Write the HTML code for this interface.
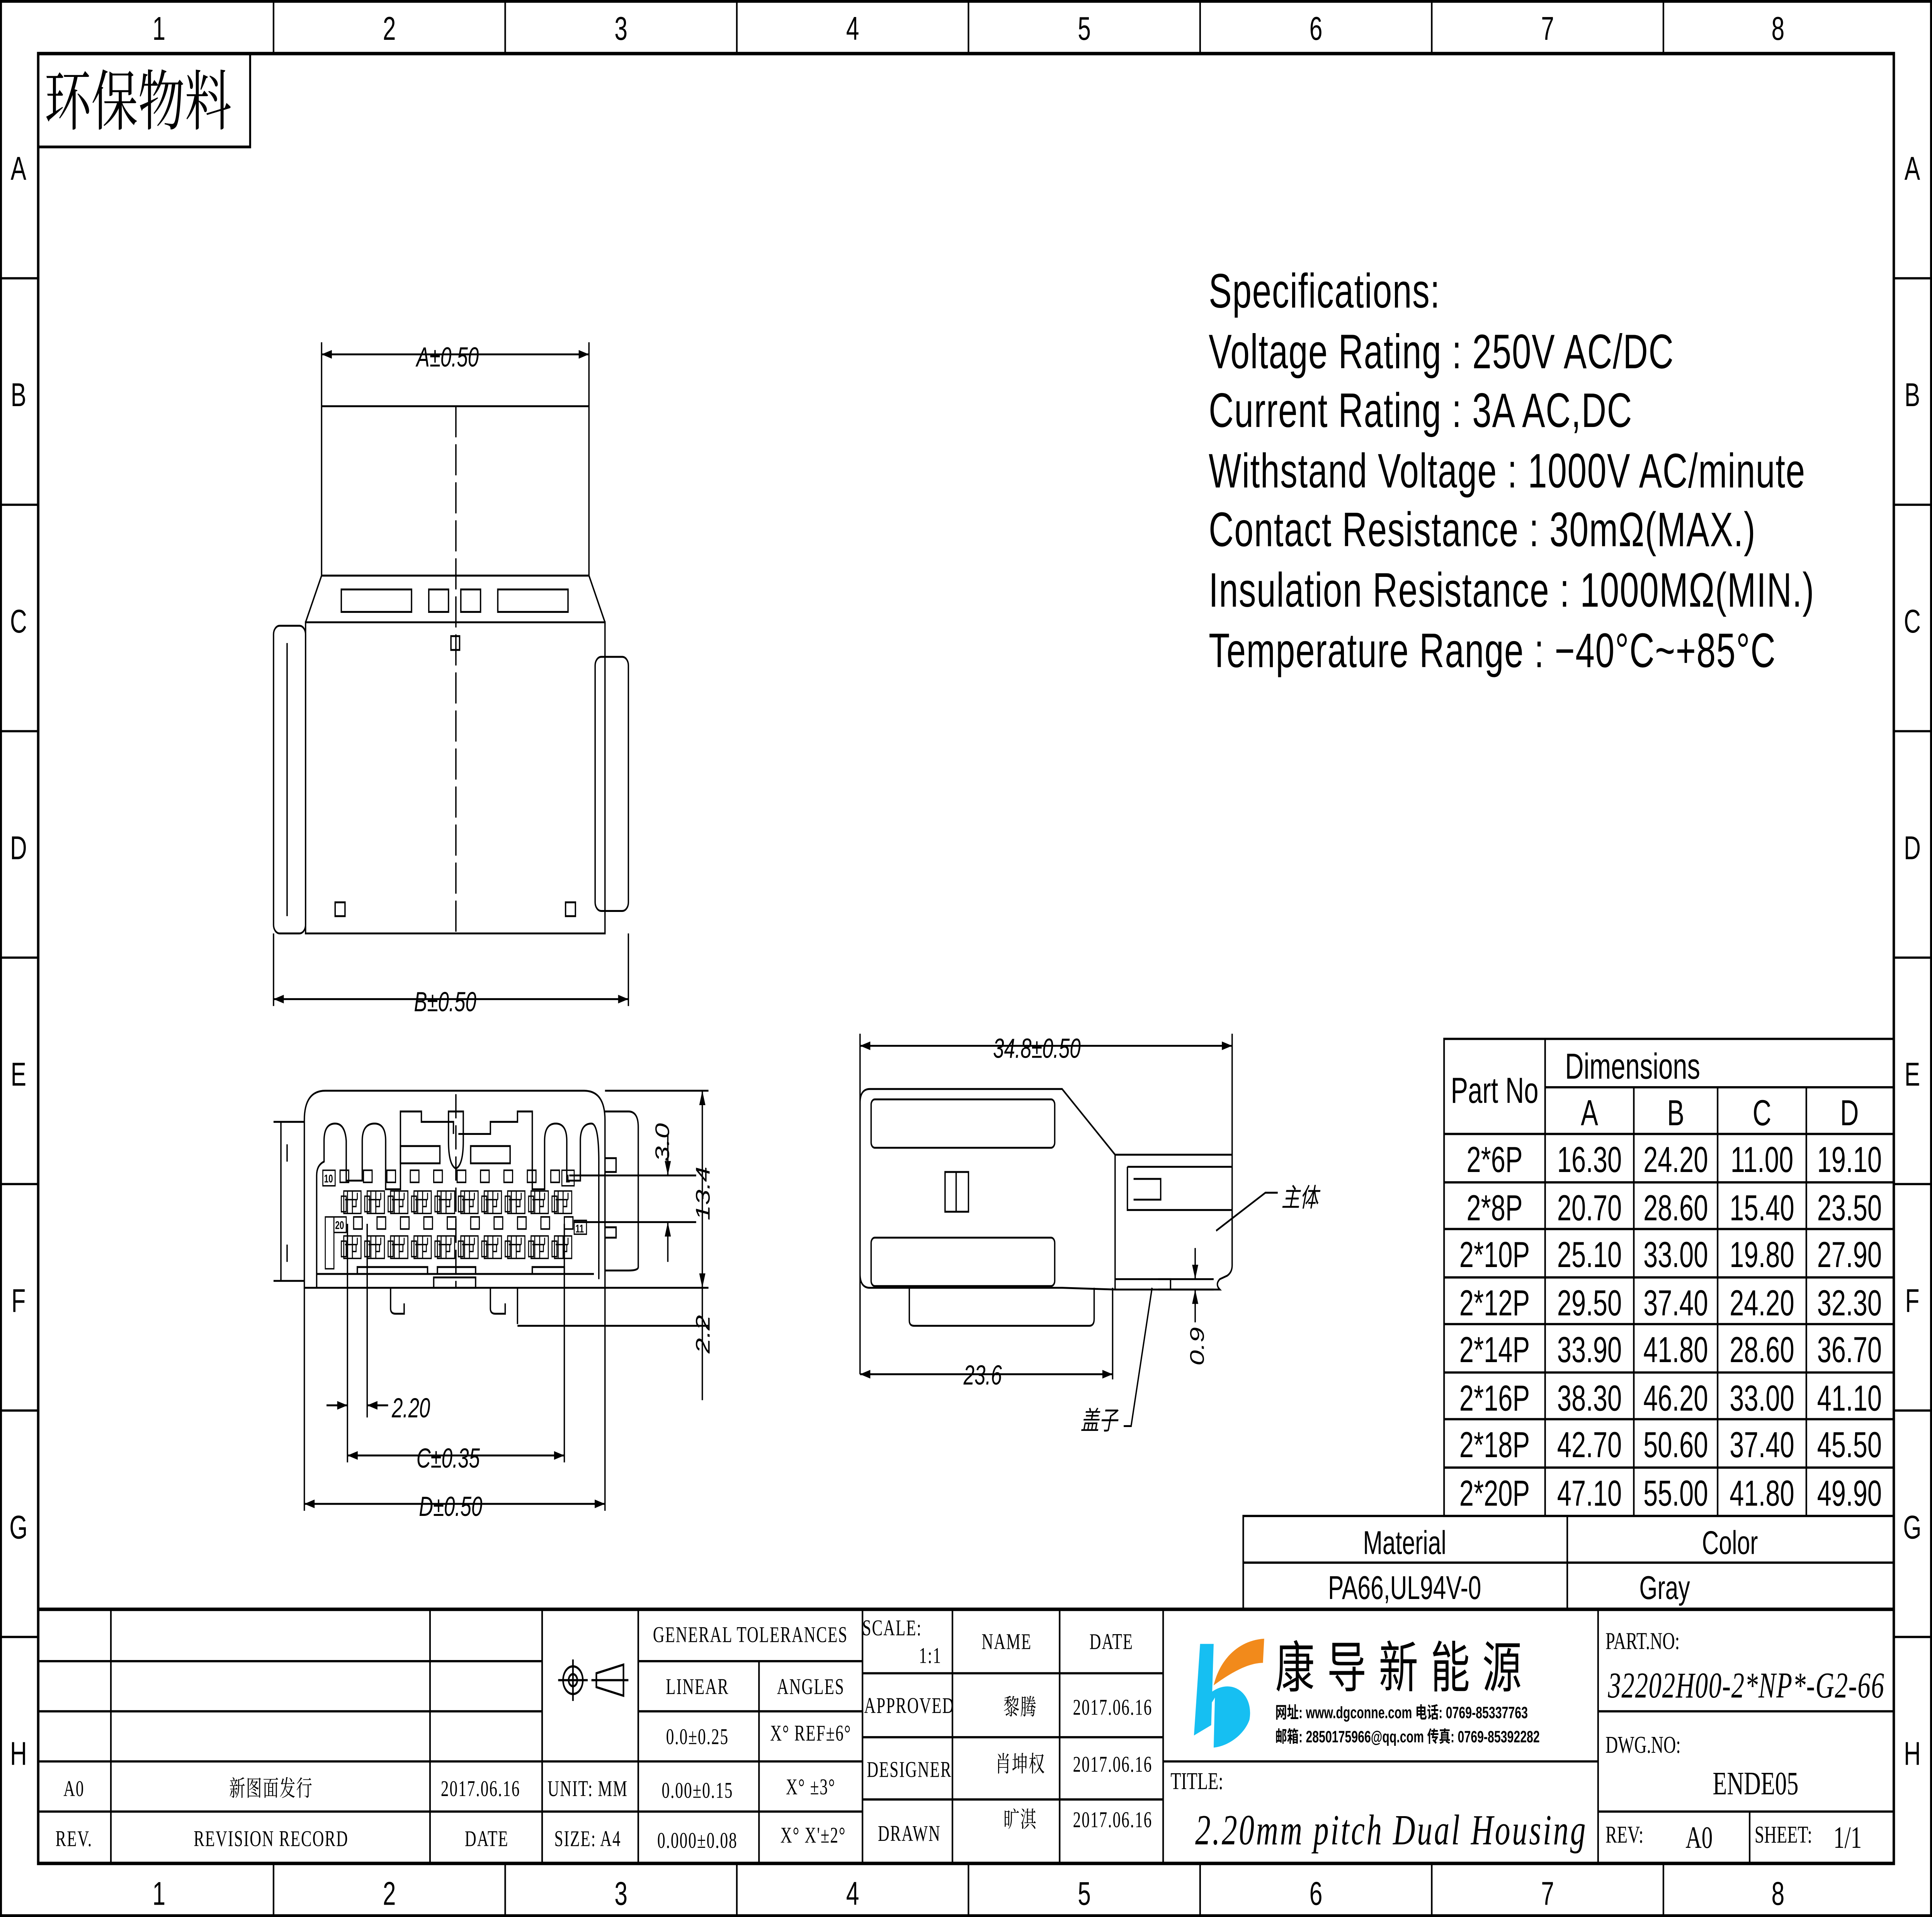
<!DOCTYPE html>
<html><head><meta charset="utf-8"><style>
html,body{margin:0;padding:0;background:#fff;width:100vw;height:100vh;overflow:hidden;}
svg{display:block;width:100vw;height:100vh;}
text{font-family:"Liberation Sans","Noto Sans CJK SC",sans-serif;fill:#000;}
.s{font-family:"Liberation Serif","Noto Serif CJK SC","Noto Sans CJK SC",serif;}
.d{font-style:italic;font-size:16px;}
</style></head><body>
<svg viewBox="0 0 1568 1109" preserveAspectRatio="none" xmlns="http://www.w3.org/2000/svg">
<defs>
<marker id="ar" viewBox="0 0 10 6" refX="10" refY="3" markerWidth="9" markerHeight="5" markerUnits="userSpaceOnUse" orient="auto-start-reverse"><path d="M0,0L10,3L0,6z" fill="#000"/></marker>
<g id="pin" fill="none" stroke="#000" stroke-width="0.8">
<rect x="2" y="0" width="14" height="13"/><rect x="0" y="3" width="4" height="9"/>
<line x1="5" y1="0" x2="5" y2="13"/><line x1="9" y1="0" x2="9" y2="13"/><line x1="13" y1="1" x2="13" y2="5"/>
<line x1="3" y1="5" x2="13" y2="5"/><path d="M9,5v4h3v-4"/>
</g>
<rect id="sq" width="7" height="7" fill="none" stroke="#000" stroke-width="0.9"/>
</defs>
<rect width="1568" height="1109" fill="#fff"/>
<g fill="none" stroke="#000">
<rect x="0.8" y="0.8" width="1566.4" height="1107.4" stroke-width="1.6"/>
<rect x="31" y="31" width="1506" height="1047" stroke-width="2"/>
<g stroke-width="1.3">
<path d="M222,0V31M410,0V31M598,0V31M786,0V31M974,0V31M1162,0V31M1350,0V31"/>
<path d="M222,1078V1109M410,1078V1109M598,1078V1109M786,1078V1109M974,1078V1109M1162,1078V1109M1350,1078V1109"/>
<path d="M0,161H31M0,292H31M0,423H31M0,554H31M0,685H31M0,816H31M0,947H31"/>
<path d="M1537,161H1568M1537,292H1568M1537,423H1568M1537,554H1568M1537,685H1568M1537,816H1568M1537,947H1568"/>
</g>
<rect x="31" y="31" width="172" height="54" stroke-width="1.6"/>
</g>
<g font-size="19" text-anchor="middle">
<text x="129" y="23">1</text><text x="316" y="23">2</text><text x="504" y="23">3</text><text x="692" y="23">4</text><text x="880" y="23">5</text><text x="1068" y="23">6</text><text x="1256" y="23">7</text><text x="1443" y="23">8</text>
<text x="129" y="1102">1</text><text x="316" y="1102">2</text><text x="504" y="1102">3</text><text x="692" y="1102">4</text><text x="880" y="1102">5</text><text x="1068" y="1102">6</text><text x="1256" y="1102">7</text><text x="1443" y="1102">8</text>
<text x="15" y="104">A</text><text x="15" y="235">B</text><text x="15" y="366">C</text><text x="15" y="497">D</text><text x="15" y="628">E</text><text x="15" y="759">F</text><text x="15" y="890">G</text><text x="15" y="1021">H</text>
<text x="1552" y="104">A</text><text x="1552" y="235">B</text><text x="1552" y="366">C</text><text x="1552" y="497">D</text><text x="1552" y="628">E</text><text x="1552" y="759">F</text><text x="1552" y="890">G</text><text x="1552" y="1021">H</text>
</g>
<text x="36" y="72" class="s" font-size="38">环保物料</text>
<g font-size="28" letter-spacing="0.5">
<text x="981" y="178">Specifications:</text>
<text x="981" y="213">Voltage  Rating : 250V AC/DC</text>
<text x="981" y="247">Current  Rating : 3A AC,DC</text>
<text x="981" y="282">Withstand Voltage : 1000V AC/minute</text>
<text x="981" y="316">Contact  Resistance : 30mΩ(MAX.)</text>
<text x="981" y="351">Insulation  Resistance : 1000MΩ(MIN.)</text>
<text x="981" y="386">Temperature  Range : −40°C~+85°C</text>
</g>
<g fill="none" stroke="#000" stroke-width="1.3">
<rect x="1172" y="601" width="365" height="276"/>
<path d="M1254,601V877M1326,629V877M1394,629V877M1466,629V877M1254,629H1537"/>
<path d="M1172,656H1537M1172,684H1537M1172,711H1537M1172,739H1537M1172,766H1537M1172,794H1537M1172,821H1537M1172,849H1537"/>
<rect x="1009" y="877" width="528" height="54"/>
<path d="M1272,877V931M1009,904H1537"/>
</g>
<g font-size="21" text-anchor="middle">
<text x="1213" y="638">Part No</text><text x="1325" y="624">Dimensions</text>
<text x="1290" y="651">A</text><text x="1360" y="651">B</text><text x="1430" y="651">C</text><text x="1501" y="651">D</text>
<text x="1213" y="678">2*6P</text><text x="1290" y="678">16.30</text><text x="1360" y="678">24.20</text><text x="1430" y="678">11.00</text><text x="1501" y="678">19.10</text>
<text x="1213" y="706">2*8P</text><text x="1290" y="706">20.70</text><text x="1360" y="706">28.60</text><text x="1430" y="706">15.40</text><text x="1501" y="706">23.50</text>
<text x="1213" y="733">2*10P</text><text x="1290" y="733">25.10</text><text x="1360" y="733">33.00</text><text x="1430" y="733">19.80</text><text x="1501" y="733">27.90</text>
<text x="1213" y="761">2*12P</text><text x="1290" y="761">29.50</text><text x="1360" y="761">37.40</text><text x="1430" y="761">24.20</text><text x="1501" y="761">32.30</text>
<text x="1213" y="788">2*14P</text><text x="1290" y="788">33.90</text><text x="1360" y="788">41.80</text><text x="1430" y="788">28.60</text><text x="1501" y="788">36.70</text>
<text x="1213" y="816">2*16P</text><text x="1290" y="816">38.30</text><text x="1360" y="816">46.20</text><text x="1430" y="816">33.00</text><text x="1501" y="816">41.10</text>
<text x="1213" y="843">2*18P</text><text x="1290" y="843">42.70</text><text x="1360" y="843">50.60</text><text x="1430" y="843">37.40</text><text x="1501" y="843">45.50</text>
<text x="1213" y="871">2*20P</text><text x="1290" y="871">47.10</text><text x="1360" y="871">55.00</text><text x="1430" y="871">41.80</text><text x="1501" y="871">49.90</text>
<text x="1140" y="899" font-size="19">Material</text><text x="1404" y="899" font-size="19">Color</text>
<text x="1140" y="925" font-size="19">PA66,UL94V-0</text><text x="1351" y="925" font-size="19">Gray</text>
</g>
<g fill="none" stroke="#000" stroke-width="1.3">
<path d="M31,931H1537" stroke-width="2"/>
<path d="M90,931V1078M349,931V1078M440,931V1078M518,931V1078M700,931V1078M773,931V1078M860,931V1078M944,931V1078M1297,931V1078"/>
<path d="M31,961H440M31,990H440M31,1019H518M31,1048H518"/>
<path d="M518,961H700M518,990H700M518,1019H700M518,1048H700M616,961V1078"/>
<path d="M700,968H944M700,1005H944M700,1041H944"/>
<path d="M944,1019H1297M1297,990H1537M1297,1048H1537M1420,1048V1078"/>
<circle cx="465" cy="972" r="8"/><circle cx="465" cy="972" r="3.5"/><path d="M453,972H477M465,960V984M484,968L506,963V981L484,976ZM480,972H510"/>
</g>
<g class="s" font-size="13" text-anchor="middle" letter-spacing="0.6">
<text x="60" y="1039" class="s">A0</text><text x="220" y="1039" class="s">新图面发行</text><text x="390" y="1039" class="s">2017.06.16</text>
<text x="60" y="1068" class="s">REV.</text><text x="220" y="1068" class="s">REVISION RECORD</text><text x="395" y="1068" class="s">DATE</text>
<text x="477" y="1039" class="s">UNIT: MM</text><text x="477" y="1068" class="s">SIZE: A4</text>
<text x="609" y="950" class="s">GENERAL TOLERANCES</text>
<text x="566" y="980" class="s">LINEAR</text><text x="658" y="980" class="s">ANGLES</text>
<text x="566" y="1009" class="s">0.0±0.25</text><text x="658" y="1007" class="s">X° REF±6°</text>
<text x="566" y="1040" class="s">0.00±0.15</text><text x="658" y="1038" class="s">X° ±3°</text>
<text x="566" y="1069" class="s">0.000±0.08</text><text x="660" y="1066" class="s">X° X'±2°</text>
<text x="724" y="946" class="s">SCALE:</text><text x="755" y="962" class="s">1:1</text>
<text x="817" y="954" class="s">NAME</text><text x="902" y="954" class="s">DATE</text>
<text x="738" y="991" class="s">APPROVED</text><text x="828" y="992" class="s">黎腾</text><text x="903" y="992" class="s">2017.06.16</text>
<text x="738" y="1028" class="s">DESIGNER</text><text x="828" y="1025" class="s">肖坤权</text><text x="903" y="1025" class="s">2017.06.16</text>
<text x="738" y="1065" class="s">DRAWN</text><text x="828" y="1057" class="s">旷淇</text><text x="903" y="1057" class="s">2017.06.16</text>
</g>
<g class="s" font-size="14">
<text x="950" y="1035" class="s">TITLE:</text>
<text x="1303" y="954" class="s">PART.NO:</text>
<text x="1303" y="1014" class="s">DWG.NO:</text>
<text x="1303" y="1066" class="s">REV:</text><text x="1368" y="1069" class="s" font-size="18">A0</text>
<text x="1424" y="1066" class="s">SHEET:</text><text x="1488" y="1069" class="s" font-size="18">1/1</text>
<text x="1305" y="982" class="s" font-size="21" font-style="italic" letter-spacing="0.5">32202H00-2*NP*-G2-66</text>
<text x="1390" y="1038" class="s" font-size="19">ENDE05</text>
<text x="970" y="1067" class="s" font-size="25" font-style="italic" letter-spacing="1.4">2.20mm pitch Dual Housing</text>
</g>
<path d="M974,951L985,951L983,998L969,1004Z" fill="#16bff2"/>
<path d="M983,979C1000,970 1018,980 1014,995C1010,1003 998,1010 985,1011L986,982Q980,990 983,979Z" fill="#16bff2"/>
<path d="M985,975C990,960 1005,949 1026,948L1025,962C1015,962 1002,966 985,975Z" fill="#f28a1b"/>
<text x="1035" y="976" font-size="32" font-family="Noto Sans CJK SC, sans-serif" letter-spacing="10">康导新能源</text>
<text x="1035" y="994" font-size="9.5" font-weight="bold">网址: www.dgconne.com   电话: 0769-85337763</text>
<text x="1035" y="1008" font-size="9.5" font-weight="bold">邮箱: 2850175966@qq.com 传真: 0769-85392282</text>

<g fill="none" stroke="#000" stroke-width="1.1">
<path d="M261,198V235M478,198V235"/>
<path d="M261,205H478" marker-start="url(#ar)" marker-end="url(#ar)"/>
<rect x="261" y="235" width="217" height="98"/>
<path d="M261,333L248,360M478,333L491,360M261,333H478"/>
<rect x="248" y="360" width="243" height="180"/>
<rect x="222" y="362" width="26" height="178" rx="5"/><path d="M233,372V530"/>
<rect x="483" y="380" width="27" height="147" rx="5"/>
<rect x="277" y="341" width="57" height="13"/><rect x="348" y="341" width="16" height="13"/><rect x="374" y="341" width="16" height="13"/><rect x="404" y="341" width="57" height="13"/>
<rect x="366" y="368" width="7" height="8"/><rect x="272" y="522" width="8" height="8"/><rect x="459" y="522" width="8" height="8"/>
<path d="M370,235V540" stroke-dasharray="18,4"/>
<path d="M222,540V582M510,540V582"/>
<path d="M222,578H510" marker-start="url(#ar)" marker-end="url(#ar)"/>
</g>
<text x="338" y="212" class="d">A±0.50</text>
<text x="336" y="585" class="d">B±0.50</text>

<g fill="none" stroke="#000" stroke-width="1.1">
<path d="M247,745V648Q247,631 264,631H474Q491,631 491,648V745Z"/>
<path d="M257,745V680Q257,674 263,672V660Q263,650 272,650Q280,650 281,660V683H294V660Q294,650 304,650Q313,650 313,660V688H325V643H342V649H368V656M372,656H398V649H420V643H432V688H442V660Q442,650 451,650Q460,650 460,660V683H471V660Q471,650 480,650Q486,650 486,672V740"/>
<rect x="325" y="663" width="32" height="10"/><rect x="382" y="663" width="32" height="10"/>
<path d="M364,660Q364,674 370,676Q376,674 376,660V643H364Z"/>
<path d="M222,649H247M222,741H247M228,649V741M233,662V672M233,720V730"/>
<path d="M491,643H510Q518,643 518,652V733Q518,735 510,735H491"/>
<path d="M491,670H500V678H491M491,710H500V716H491"/>
<path d="M257,737H482M290,737V733H347V737M355,737V733H386V737M432,737V733H458V737"/>
<rect x="352" y="739" width="34" height="6"/>
<path d="M317,745V757Q317,760 321,760H328V754M398,745V757Q398,760 402,760H410V754M420,745V766"/>
<path d="M370,633V745" stroke-dasharray="14,4"/>
<path d="M462,680H565M466,707H565M491,631H575M491,745H575M420,767H575"/>
<path d="M542,656V680" marker-end="url(#ar)"/><path d="M542,730V707" marker-end="url(#ar)"/>
<path d="M570,631V745" marker-start="url(#ar)" marker-end="url(#ar)"/>
<path d="M570,745V810"/>
<path d="M282,708V846M298,708V820M458,708V846M247,745V874M491,745V874"/>
<path d="M265,813H282" marker-end="url(#ar)"/><path d="M315,813H298" marker-end="url(#ar)"/>
<path d="M282,842H458" marker-start="url(#ar)" marker-end="url(#ar)"/>
<path d="M247,870H491" marker-start="url(#ar)" marker-end="url(#ar)"/>
</g>
<g>
<use href="#sq" x="276" y="677"/><use href="#sq" x="295" y="677"/><use href="#sq" x="314" y="677"/><use href="#sq" x="333" y="677"/><use href="#sq" x="352" y="677"/><use href="#sq" x="371" y="677"/><use href="#sq" x="390" y="677"/><use href="#sq" x="409" y="677"/><use href="#sq" x="428" y="677"/><use href="#sq" x="447" y="677"/>
<use href="#sq" x="287" y="704"/><use href="#sq" x="306" y="704"/><use href="#sq" x="325" y="704"/><use href="#sq" x="344" y="704"/><use href="#sq" x="363" y="704"/><use href="#sq" x="382" y="704"/><use href="#sq" x="401" y="704"/><use href="#sq" x="420" y="704"/><use href="#sq" x="439" y="704"/><use href="#sq" x="458" y="704"/>
<use href="#pin" x="277" y="689"/><use href="#pin" x="296" y="689"/><use href="#pin" x="315" y="689"/><use href="#pin" x="334" y="689"/><use href="#pin" x="353" y="689"/><use href="#pin" x="372" y="689"/><use href="#pin" x="391" y="689"/><use href="#pin" x="410" y="689"/><use href="#pin" x="429" y="689"/><use href="#pin" x="448" y="689"/>
<use href="#pin" x="277" y="715"/><use href="#pin" x="296" y="715"/><use href="#pin" x="315" y="715"/><use href="#pin" x="334" y="715"/><use href="#pin" x="353" y="715"/><use href="#pin" x="372" y="715"/><use href="#pin" x="391" y="715"/><use href="#pin" x="410" y="715"/><use href="#pin" x="429" y="715"/><use href="#pin" x="448" y="715"/>
<rect x="262" y="677" width="10" height="9" fill="none" stroke="#000" stroke-width="0.8"/><text x="263" y="684" font-size="6.5" font-weight="bold">10</text>
<rect x="456" y="677" width="10" height="9" fill="none" stroke="#000" stroke-width="0.8"/><text x="459" y="684" font-size="6.5" font-weight="bold">1</text>
<rect x="271" y="704" width="10" height="9" fill="none" stroke="#000" stroke-width="0.8"/><text x="272" y="711" font-size="6.5" font-weight="bold">20</text>
<rect x="466" y="706" width="10" height="8" fill="none" stroke="#000" stroke-width="0.8"/><text x="467" y="713" font-size="6.5" font-weight="bold">11</text>
<rect x="264" y="704" width="7" height="30" fill="none" stroke="#000" stroke-width="0.8"/>
</g>
<text x="318" y="820" class="d">2.20</text>
<text x="338" y="849" class="d">C±0.35</text>
<text x="340" y="877" class="d">D±0.50</text>
<text class="d" transform="translate(543,672) rotate(-90)">3.0</text>
<text class="d" transform="translate(576,706) rotate(-90)">13.4</text>
<text class="d" transform="translate(576,783) rotate(-90)">2.2</text>

<g fill="none" stroke="#000" stroke-width="1.1">
<path d="M698,598V795M1000,598V668M903,745V798"/>
<path d="M698,605H1000" marker-start="url(#ar)" marker-end="url(#ar)"/>
<path d="M706,630H862L905,668H1000V732Q1000,736 996,738L990,740Q986,743 990,746H905L862,745H706Q698,745 698,737V638Q698,630 706,630Z"/>
<rect x="707" y="636" width="149" height="28" rx="3"/><rect x="707" y="716" width="149" height="28" rx="3"/>
<rect x="767" y="678" width="19" height="23"/><path d="M776,678V701"/>
<path d="M738,745V764Q738,767 742,767H884Q888,767 888,763V745"/>
<path d="M905,668V746M915,675H1000M915,675V700H1000M920,682H942V694H920M905,740H950V746"/>
<path d="M698,795H903" marker-start="url(#ar)" marker-end="url(#ar)"/>
<path d="M940,740H985M940,746H985"/>
<path d="M970,722V740" marker-end="url(#ar)"/><path d="M970,765V746" marker-end="url(#ar)"/>
<path d="M1037,690H1027L987,712" /><path d="M912,825H918L935,745"/>
</g>
<text x="806" y="612" class="d">34.8±0.50</text>
<text x="782" y="801" class="d">23.6</text>
<text class="d" transform="translate(977,790) rotate(-90)">0.9</text>
<text x="1040" y="698" font-size="15" font-style="italic" font-family="Noto Sans CJK SC, sans-serif">主体</text>
<text x="877" y="827" font-size="15" font-style="italic" font-family="Noto Sans CJK SC, sans-serif">盖子</text>
</svg>
</body></html>
